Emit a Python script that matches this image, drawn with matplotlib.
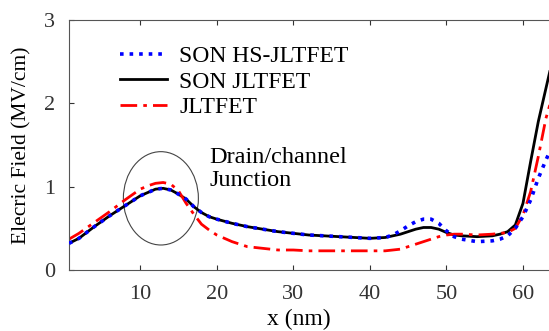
import numpy as np
import matplotlib.pyplot as plt
from matplotlib.patches import Ellipse

plt.rcParams['font.family'] = ['Liberation Serif', 'DejaVu Serif']

# position along the device (nm)
x_nm = [0.7, 2, 4, 6, 8, 10, 11, 12, 13, 14, 15, 16, 17, 18, 19, 20, 22, 24, 26, 28,
        30, 32, 34, 36, 38, 40, 42, 43, 44, 45, 46, 47, 48, 49, 50, 51, 52, 54, 56,
        57, 58, 59, 60, 61, 62, 63, 63.5]

# SON HS-JLTFET
field_son_hs = [0.32, 0.38, 0.52, 0.65, 0.77, 0.89, 0.93, 0.97, 0.98, 0.96, 0.91, 0.85,
                0.76, 0.69, 0.64, 0.61, 0.56, 0.52, 0.49, 0.46, 0.44, 0.42, 0.41, 0.40,
                0.39, 0.38, 0.39, 0.42, 0.47, 0.53, 0.58, 0.61, 0.61, 0.56, 0.47, 0.40,
                0.37, 0.34, 0.35, 0.37, 0.41, 0.50, 0.64, 0.84, 1.10, 1.32, 1.42]

# SON JLTFET
field_son = [0.32, 0.38, 0.52, 0.65, 0.77, 0.89, 0.93, 0.97, 0.98, 0.96, 0.91, 0.85,
             0.76, 0.69, 0.64, 0.61, 0.56, 0.52, 0.49, 0.46, 0.44, 0.42, 0.41, 0.40,
             0.39, 0.38, 0.39, 0.41, 0.43, 0.46, 0.49, 0.51, 0.51, 0.49, 0.45, 0.42,
             0.41, 0.40, 0.41, 0.43, 0.46, 0.54, 0.80, 1.30, 1.78, 2.18, 2.38]

# JLTFET
field_jl = [0.37, 0.44, 0.57, 0.70, 0.84, 0.97, 1.01, 1.04, 1.05, 1.03, 0.95, 0.80,
            0.67, 0.55, 0.48, 0.42, 0.34, 0.28, 0.26, 0.24, 0.24, 0.23, 0.23, 0.23,
            0.23, 0.23, 0.23, 0.24, 0.25, 0.28, 0.31, 0.34, 0.37, 0.40, 0.42, 0.43,
            0.43, 0.42, 0.43, 0.44, 0.45, 0.50, 0.66, 0.94, 1.36, 1.82, 1.98]

x_ticks = [10, 20, 30, 40, 50, 60]
y_ticks = [0, 1, 2, 3]

fig = plt.figure(figsize=(5.49, 3.31), dpi=100)
ax = fig.add_axes([0.1257, 0.1843, 0.8743, 0.7553])

# blue dots sit on top of the black line where the two overlap
ax.plot(x_nm, field_son_hs, ':', color='#0000ff', linewidth=2.6, label='SON HS-JLTFET', zorder=3)
ax.plot(x_nm, field_son, '-', color='black', linewidth=2.0, label='SON JLTFET', zorder=2)
ax.plot(x_nm, field_jl, color='#ff0000', linewidth=2.0, dashes=[6, 2.2, 1.3, 2.2],
        label='JLTFET', zorder=2)

ax.add_patch(Ellipse((12.7, 0.86), 9.8, 1.12, fill=False, edgecolor='#444444', linewidth=0.8))
ax.text(19.0, 1.48, 'Drain/channel\nJunction', fontsize=17.5, linespacing=1.15, va='top')

ax.set_xlim(0.7, 63.4)
ax.set_ylim(0, 3)
ax.set_xticks(x_ticks)
ax.set_yticks(y_ticks)
ax.tick_params(direction='in', top=True, labelsize=16, colors='#333333')
ax.tick_params(axis='x', pad=11)
ax.tick_params(axis='y', pad=10)
for s in ax.spines.values():
    s.set_color('#555555')
ax.spines['right'].set_visible(False)

ax.set_xlabel('x (nm)', fontsize=17)
ax.xaxis.set_label_coords(0.479, -0.155)
ax.set_ylabel('Elecric Field (MV/cm)', fontsize=15.5)
ax.yaxis.set_label_coords(-0.079, 0.5)

ax.legend(loc='upper left', bbox_to_anchor=(0.072, 0.965), frameon=False, fontsize=17,
          handlelength=2.0, handletextpad=0.5, labelspacing=0.18, borderpad=0.2)

fig.savefig('out.png', dpi=100)
